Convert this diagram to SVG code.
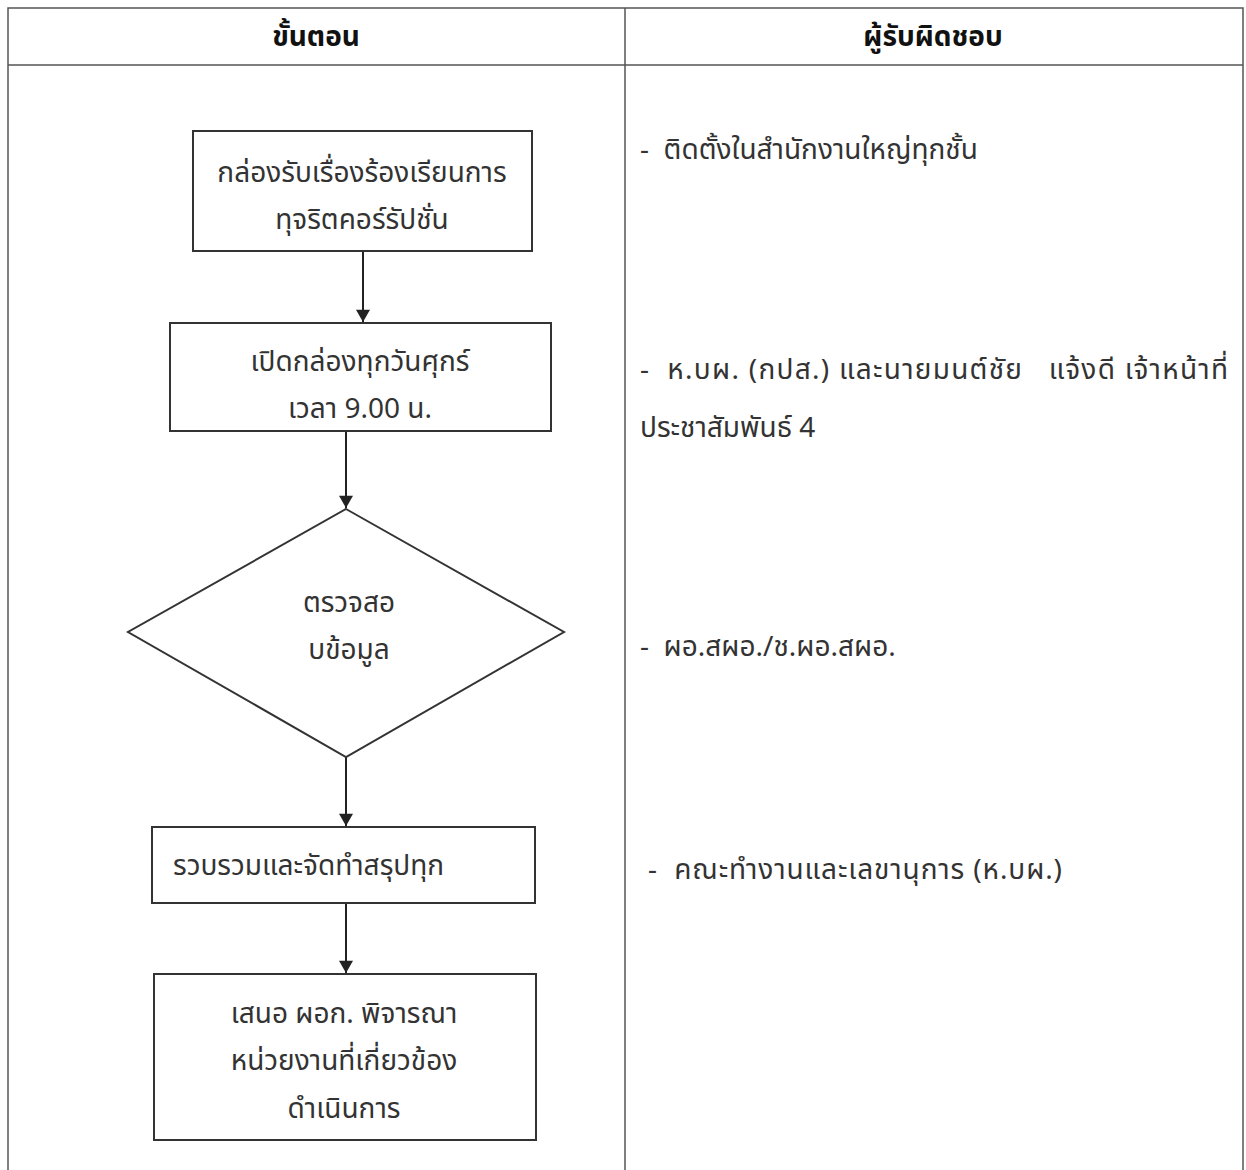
<svg xmlns="http://www.w3.org/2000/svg" width="1246" height="1170" viewBox="0 0 1246 1170">
<defs>
<style>
text{font-family:"Noto Sans Thai","Noto Sans","DejaVu Sans",sans-serif;fill:#333;font-size:28px}
.h{font-weight:bold;fill:#111;font-size:28px}
.c{text-anchor:middle}
.shape{fill:#fff;stroke:#333;stroke-width:2}
.grid{stroke:#555;stroke-width:1.5;fill:none}
.conn{stroke:#222;stroke-width:2;fill:none}
</style>
<marker id="ah" viewBox="0 0 14 16" refX="14" refY="8" markerWidth="16" markerHeight="14" orient="auto" markerUnits="userSpaceOnUse">
<path d="M0,0 L14,8 L0,16 z" fill="#222"/>
</marker>
</defs>
<rect width="1246" height="1170" fill="#fff"/>
<g id="table">
<path class="grid" d="M8,1170 V8 H1243 V1170 M8,65 H1243 M625,8 V1170"/>
<text class="h c" x="316" y="46">ขั้นตอน</text>
<text class="h c" x="933" y="46">ผู้รับผิดชอบ</text>
</g>
<g id="connectors">
<line class="conn" x1="363" y1="251" x2="363" y2="322" marker-end="url(#ah)"/>
<line class="conn" x1="346" y1="431" x2="346" y2="508" marker-end="url(#ah)"/>
<line class="conn" x1="346" y1="757" x2="346" y2="826" marker-end="url(#ah)"/>
<line class="conn" x1="346" y1="903" x2="346" y2="973" marker-end="url(#ah)"/>
</g>
<g id="n1">
<rect class="shape" x="193" y="131" width="339" height="120"/>
<text class="c" x="362" y="182">กล่องรับเรื่องร้องเรียนการ</text>
<text class="c" x="362" y="229">ทุจริตคอร์รัปชั่น</text>
</g>
<g id="n2">
<rect class="shape" x="170" y="323" width="381" height="108"/>
<text class="c" x="360" y="371">เปิดกล่องทุกวันศุกร์</text>
<text class="c" x="360" y="418">เวลา 9.00 น.</text>
</g>
<g id="n3">
<polygon class="shape" points="346,509 564,632 346,757 128,632"/>
<text class="c" x="349" y="612">ตรวจสอ</text>
<text class="c" x="349" y="659">บข้อมูล</text>
</g>
<g id="n4">
<rect class="shape" x="152" y="827" width="383" height="76"/>
<text x="173" y="875">รวบรวมและจัดทำสรุปทุก</text>
</g>
<g id="n5">
<rect class="shape" x="154" y="974" width="382" height="166"/>
<text class="c" x="344" y="1023">เสนอ ผอก. พิจารณา</text>
<text class="c" x="344" y="1070">หน่วยงานที่เกี่ยวข้อง</text>
<text class="c" x="344" y="1118">ดำเนินการ</text>
</g>
<g id="resp">
<text x="640" y="159" xml:space="preserve">-  ติดตั้งในสำนักงานใหญ่ทุกชั้น</text>
<text x="640" y="379" xml:space="preserve" textLength="588" lengthAdjust="spacing">-  ห.บผ. (กปส.) และนายมนต์ชัย   แจ้งดี เจ้าหน้าที่</text>
<text x="640" y="437">ประชาสัมพันธ์ 4</text>
<text x="640" y="656" xml:space="preserve">-  ผอ.สผอ./ช.ผอ.สผอ.</text>
<text x="648" y="879" xml:space="preserve" textLength="414" lengthAdjust="spacing">-  คณะทำงานและเลขานุการ (ห.บผ.)</text>
</g>
</svg>
